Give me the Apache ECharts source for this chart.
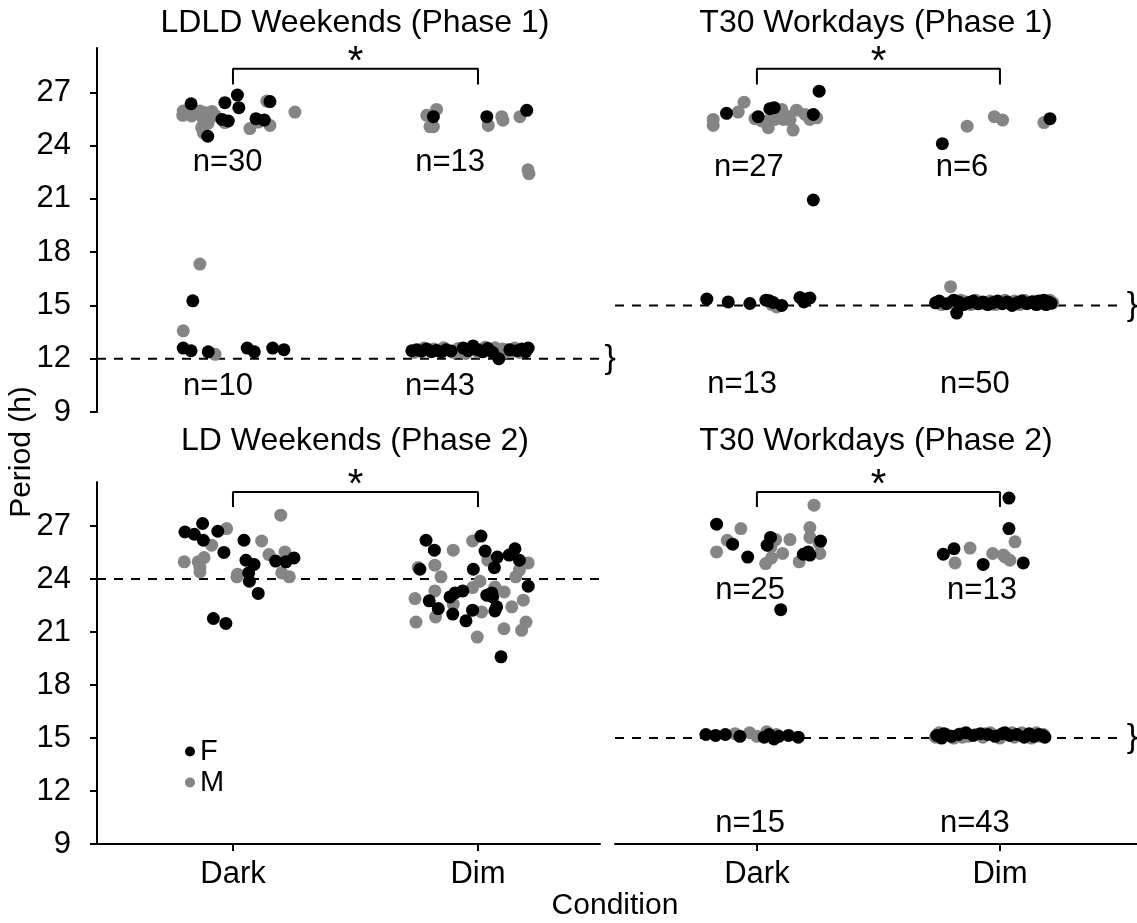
<!DOCTYPE html>
<html><head><meta charset="utf-8">
<script src="https://cdn.jsdelivr.net/npm/echarts@6/dist/echarts.min.js"></script>
<style>html,body{margin:0;padding:0;background:#fff}#c{width:1137px;height:923px}</style>
</head><body><div id="c"></div>
<script>
// ---------------- DATA ----------------
const conditions = ['Dark', 'Dim'];
const sexes = ['F', 'M'];
const panelTitles = ['LDLD Weekends (Phase 1)', 'T30 Workdays (Phase 1)', 'LD Weekends (Phase 2)', 'T30 Workdays (Phase 2)'];
const yTickValues = [9, 12, 15, 18, 21, 24, 27];
const refPeriods = [12, 15, 24, 15];          // dashed reference period per panel
const braceShown = [true, true, false, true];
// n counts per panel: [upper Dark, upper Dim, lower Dark, lower Dim]
const nCounts = [[30, 13, 10, 43], [27, 6, 13, 50], [], [25, 13, 15, 43]];

// points: [jitter from condition centre, period (h)]
const p1DarkF = [[-0.171,26.36],[-0.033,26.42],[0.018,26.85],[0.024,26.14],[0.151,26.48],[-0.019,25.39],[0.094,25.52],[0.128,25.44],[-0.103,24.53],[-0.045,25.48],
  [-0.164,15.26],[-0.203,12.60],[-0.171,12.45],[-0.101,12.39],[0.058,12.60],[0.087,12.39],[0.162,12.60],[0.208,12.51]];
const p1DarkM = [[-0.203,25.95],[-0.205,25.71],[-0.169,25.67],[-0.135,25.95],[-0.114,25.86],[-0.121,25.48],[-0.128,25.01],[-0.121,24.73],[-0.073,25.71],[-0.033,25.30],
  [0.069,24.96],[0.103,25.33],[0.151,25.14],[0.138,26.51],[0.253,25.89],[-0.094,25.57],[-0.155,25.92],[-0.102,25.26],[-0.176,26.04],[-0.086,25.93],
  [-0.135,17.33],[-0.203,13.57],[-0.073,12.25]];
const p1DimF = [[-0.182,25.63],[0.036,25.63],[0.199,25.99],
  [-0.27,12.45],[-0.25,12.5],[-0.23,12.42],[-0.21,12.55],[-0.19,12.4],[-0.17,12.47],[-0.15,12.38],[-0.13,12.5],[-0.11,12.44],[-0.06,12.6],[-0.04,12.45],
  [-0.02,12.72],[0.0,12.5],[0.02,12.4],[0.04,12.58],[0.06,12.35],[0.085,12.0],[0.13,12.5],[0.16,12.45],[0.18,12.55],[0.195,12.4],[0.205,12.6]];
const p1DimM = [[-0.209,25.71],[-0.169,26.04],[-0.196,25.07],[-0.182,25.07],[0.042,25.14],[0.097,25.63],[0.171,25.63],[0.204,22.64],[0.208,22.42],[0.102,25.43],
  [-0.26,12.35],[-0.22,12.6],[-0.18,12.55],[-0.14,12.62],[-0.1,12.35],[-0.08,12.58],[-0.07,12.4],[-0.05,12.3],[-0.03,12.55],[0.0,12.38],[0.03,12.65],
  [0.05,12.48],[0.07,12.62],[0.09,12.4],[0.1,12.55],[0.11,12.35],[0.12,12.5],[0.14,12.42],[0.15,12.6],[0.17,12.35],[0.19,12.5]];

const p2DarkF = [[0.256,27.07],[-0.125,25.82],[0.005,25.63],[0.053,26.08],[0.071,26.14],[0.232,25.76],[0.232,20.94],
  [-0.206,15.36],[-0.118,15.20],[-0.029,15.11],[0.051,15.26],[0.067,15.17],[0.102,15.0],[0.177,15.45],[0.205,15.36],[0.193,15.2],[0.218,15.42],[0.037,15.3]];
const p2DarkM = [[-0.053,26.45],[-0.077,25.89],[-0.180,25.48],[-0.180,25.14],[-0.008,25.52],[0.040,25.39],[0.047,25.01],[0.102,26.04],[0.108,25.48],[0.136,25.44],
  [0.149,24.88],[0.163,26.00],[0.198,25.76],[0.218,25.63],[0.246,25.57],[0.074,25.48],[0.019,25.39],[0.088,25.76],[0.122,25.67],[0.218,25.48],
  [0.081,14.92],[0.062,15.05]];
const p2DimF = [[-0.237,24.11],[0.206,25.52],
  [-0.265,15.15],[-0.25,15.25],[-0.22,15.1],[-0.19,15.3],[-0.178,14.57],[-0.17,15.2],[-0.15,15.05],[-0.13,15.15],[-0.11,15.25],[-0.09,15.1],[-0.07,15.2],
  [-0.05,15.05],[-0.03,15.15],[-0.01,15.25],[0.01,15.1],[0.03,15.2],[0.05,15.0],[0.07,15.15],[0.09,15.25],[0.11,15.1],[0.13,15.2],[0.15,15.05],[0.16,15.25],
  [0.17,15.15],[0.18,15.3],[0.19,15.05],[0.2,15.2],[0.21,15.12]];
const p2DimM = [[-0.135,25.10],[-0.023,25.63],[0.011,25.44],[0.181,25.30],
  [-0.24,15.05],[-0.2,15.2],[-0.203,16.06],[-0.18,15.1],[-0.16,15.3],[-0.14,15.2],[-0.12,15.05],[-0.1,15.3],[-0.08,15.1],[-0.04,15.25],[-0.02,15.05],
  [0.0,15.2],[0.02,15.3],[0.04,15.12],[0.06,15.25],[0.08,15.05],[0.1,15.3],[0.12,15.15],[0.14,15.25],[0.185,15.1],[0.205,15.3],[0.218,15.15]];

const p3DarkF = [[-0.124,27.15],[-0.196,26.67],[-0.158,26.54],[-0.062,26.71],[-0.121,26.20],[-0.037,25.51],[0.045,26.20],[0.053,25.07],[0.086,24.83],
  [0.064,24.35],[0.067,23.88],[0.103,23.19],[0.174,25.02],[0.216,24.98],[0.249,25.20],[-0.080,21.77],[-0.029,21.49]];
const p3DarkM = [[-0.026,26.86],[0.195,27.62],[-0.087,25.92],[0.117,26.16],[0.147,25.39],[0.212,25.54],[-0.199,24.98],[-0.142,24.98],[-0.118,25.22],
  [-0.135,24.66],[-0.135,24.41],[0.019,24.28],[0.016,24.13],[0.199,24.35],[0.230,24.13]];
const p3DimF = [[-0.212,26.20],[-0.178,25.64],[0.012,26.44],[0.029,25.59],[0.079,25.25],[0.067,24.65],[0.127,25.36],[0.151,25.72],[0.169,25.07],
  [-0.019,24.56],[-0.237,24.56],[0.205,23.60],[-0.199,22.77],[-0.162,22.33],[-0.114,22.99],[-0.094,23.22],[-0.062,23.33],[0.036,23.09],[0.056,23.22],
  [0.060,22.99],[0.076,22.43],[0.069,22.20],[-0.022,22.24],[-0.103,22.02],[-0.049,21.64],[0.094,19.60]];
const p3DimM = [[-0.022,26.16],[-0.101,25.64],[-0.176,24.79],[-0.244,24.66],[-0.151,24.13],[0.040,25.07],[0.205,24.92],[0.169,24.51],[0.154,24.13],
  [0.008,23.88],[-0.022,23.52],[-0.176,23.33],[-0.257,22.90],[0.069,23.55],[0.107,23.27],[0.185,22.81],[-0.101,22.58],[0.138,22.43],[0.015,22.14],
  [-0.253,21.57],[-0.173,21.86],[0.196,21.57],[0.178,21.10],[0.106,21.19],[-0.003,20.72]];

const p4DarkF = [[-0.166,27.11],[0.262,26.16],[-0.100,25.98],[0.056,26.36],[0.042,25.92],[-0.038,25.25],[0.191,25.41],[0.218,25.36],[0.098,22.27],[0.211,25.54],
  [-0.21,15.2],[-0.17,15.15],[-0.13,15.2],[-0.07,15.1],[0.03,15.05],[0.05,15.2],[0.07,14.95],[0.09,15.1],[0.13,15.15],[0.17,15.05]];
const p4DarkM = [[0.235,28.19],[-0.066,26.86],[0.218,26.92],[0.218,26.36],[-0.122,26.20],[0.077,26.24],[0.136,26.24],[-0.166,25.54],[0.060,25.20],
  [0.036,24.88],[0.106,25.45],[0.174,24.98],[0.259,25.45],[0.256,26.02],[0.058,25.83],
  [-0.09,15.25],[-0.03,15.3],[0.0,15.1],[0.04,15.35],[0.08,15.2]];
const p4DimF = [[0.037,28.59],[0.037,26.86],[-0.233,25.41],[-0.189,25.72],[-0.069,24.83],[0.096,24.92],
  [-0.26,15.15],[-0.23,15.25],[-0.2,15.1],[-0.17,15.2],[-0.14,15.3],[-0.11,15.15],[-0.08,15.25],[-0.05,15.2],[-0.02,15.1],[0.01,15.25],[0.04,15.15],
  [0.07,15.2],[0.1,15.05],[0.12,15.25],[0.14,15.1],[0.16,15.2],[0.175,15.15],[0.185,15.05],[-0.24,15.0],[0.02,15.3]];
const p4DimM = [[0.062,26.11],[-0.185,24.92],[-0.123,25.76],[-0.030,25.45],[0.014,25.36],[0.041,25.07],[0.021,25.26],
  [-0.265,15.05],[-0.25,15.3],[-0.22,15.2],[-0.19,15.0],[-0.16,15.25],[-0.13,15.1],[-0.1,15.2],[-0.07,15.05],[-0.04,15.3],[-0.01,15.15],[0.0,15.0],
  [0.03,15.2],[0.05,15.3],[0.06,15.05],[0.08,15.15],[0.09,15.3],[0.11,15.2],[0.13,15.0],[0.15,15.3],[0.165,15.1],[0.18,15.2],[-0.155,15.05],[-0.06,15.25]];

const panelPoints = [
  { F: [p1DarkF, p1DimF], M: [p1DarkM, p1DimM] },
  { F: [p2DarkF, p2DimF], M: [p2DarkM, p2DimM] },
  { F: [p3DarkF, p3DimF], M: [p3DarkM, p3DimM] },
  { F: [p4DarkF, p4DimF], M: [p4DarkM, p4DimM] }
];

// ---------------- LAYOUT / STYLE ----------------
const FONT = 'Liberation Sans, Arial, Helvetica, sans-serif';
const sexColors = { F: '#000000', M: '#858585' };
const grids = [
  { left: 97, top: 48, width: 503, height: 364 },
  { left: 615, top: 48, width: 522, height: 364 },
  { left: 97, top: 482, width: 503, height: 362 },
  { left: 615, top: 482, width: 522, height: 362 }
];
const xRanges = [[0.445, 2.498], [0.416, 2.564], [0.445, 2.498], [0.416, 2.564]];
const dashEnd = [2.498, 2.51, 2.498, 2.51];
const braceX = [2.54, 2.545, 2.54, 2.545];
const yRange = [9, 29.5];
const bracketLevels = [[27.45, 28.33], [27.45, 28.33], [28.09, 28.94], [28.09, 28.94]];
const starLevels = [28.65, 28.65, 29.27, 29.27];
const nAnchors = [
  [[0.978, 23.06], [1.886, 23.06], [0.939, 10.46], [1.845, 10.46]],
  [[0.967, 22.78], [1.844, 22.78], [0.939, 10.53], [1.897, 10.53]],
  [],
  [[0.972, 23.37], [1.926, 23.37], [0.972, 10.15], [1.897, 10.15]]
];
const titlePos = [[355, 23], [876, 23], [355, 441], [876, 441]];
const labelOnly = { symbolSize: 0, silent: true, clip: false, itemStyle: { opacity: 1 } };

const xAxes = [], yAxes = [], series = [];
grids.forEach((g, i) => {
  const isLeft = i % 2 === 0, isBottom = i >= 2;
  xAxes.push({
    gridIndex: i, type: 'value', min: xRanges[i][0], max: xRanges[i][1],
    show: isBottom,
    axisLine: { show: true, onZero: false, lineStyle: { color: '#000', width: 2 } },
    axisTick: { show: true, length: 7, lineStyle: { color: '#000', width: 2 }, customValues: [1, 2] },
    axisLabel: { show: true, customValues: [1, 2], formatter: v => conditions[Math.round(v) - 1] || '',
      fontSize: 31, color: '#000', fontFamily: FONT, margin: 15 },
    splitLine: { show: false }
  });
  yAxes.push({
    gridIndex: i, type: 'value', min: yRange[0], max: yRange[1],
    show: isLeft,
    axisLine: { show: true, onZero: false, lineStyle: { color: '#000', width: 2 } },
    axisTick: { show: true, length: 7, lineStyle: { color: '#000', width: 2 }, customValues: yTickValues },
    axisLabel: { show: true, customValues: yTickValues, fontSize: 31, color: '#000', fontFamily: FONT, margin: 26 },
    splitLine: { show: false }
  });
  // dashed reference line
  series.push({
    type: 'line', xAxisIndex: i, yAxisIndex: i, silent: true, symbol: 'none', z: 1,
    data: [[xRanges[i][0], refPeriods[i]], [dashEnd[i], refPeriods[i]]],
    lineStyle: { color: '#000', width: 2, type: [9, 8] }
  });
  if (braceShown[i]) {
    series.push(Object.assign({ type: 'scatter', xAxisIndex: i, yAxisIndex: i,
      data: [[braceX[i], refPeriods[i]]],
      label: { show: true, position: 'inside', formatter: '}', fontSize: 34, color: '#000', fontFamily: FONT } }, labelOnly));
  }
  // significance bracket
  const [lo, hi] = bracketLevels[i];
  series.push({
    type: 'line', xAxisIndex: i, yAxisIndex: i, silent: true, symbol: 'none', z: 3,
    data: [[1, lo], [1, hi], [2, hi], [2, lo]],
    lineStyle: { color: '#000', width: 2 }
  });
  series.push(Object.assign({ type: 'scatter', xAxisIndex: i, yAxisIndex: i,
    data: [[1.5, starLevels[i]]],
    label: { show: true, position: 'inside', formatter: '*', fontSize: 40, color: '#000', fontFamily: FONT } }, labelOnly));
  // n labels
  if (nCounts[i].length) {
    series.push(Object.assign({ type: 'scatter', xAxisIndex: i, yAxisIndex: i,
      data: nAnchors[i].map((p, k) => ({ value: p, label: { formatter: 'n=' + nCounts[i][k] } })),
      label: { show: true, position: 'inside', fontSize: 31, color: '#000', fontFamily: FONT } }, labelOnly));
  }
  // points: M first, F on top
  ['M', 'F'].forEach(s => {
    const data = [];
    panelPoints[i][s].forEach((arr, c) => arr.forEach(p => data.push([c + 1 + p[0], p[1]])));
    series.push({
      name: s, type: 'scatter', xAxisIndex: i, yAxisIndex: i, symbol: 'circle', symbolSize: 13,
      itemStyle: { color: sexColors[s], opacity: 1 }, data: data, z: 2
    });
  });
});

const graphics = panelTitles.map((t, i) => ({
  type: 'text', x: titlePos[i][0], y: titlePos[i][1],
  style: { text: t, fontSize: 32, fontFamily: FONT, fill: '#000', align: 'center', verticalAlign: 'middle' }
}));
graphics.push({ type: 'text', x: 615, y: 906,
  style: { text: 'Condition', fontSize: 30, fontFamily: FONT, fill: '#000', align: 'center', verticalAlign: 'middle' } });
graphics.push({ type: 'text', x: 22, y: 452, rotation: Math.PI / 2,
  style: { text: 'Period (h)', fontSize: 30, fontFamily: FONT, fill: '#000', align: 'center', verticalAlign: 'middle' } });

const chart = echarts.init(document.getElementById('c'), null, { renderer: 'canvas' });
chart.setOption({
  animation: false,
  backgroundColor: '#fff',
  grid: grids,
  xAxis: xAxes,
  yAxis: yAxes,
  legend: {
    data: sexes, orient: 'vertical', left: 185, top: 737, padding: 0, itemGap: 2,
    icon: 'circle', itemWidth: 10, itemHeight: 10, selectedMode: false,
    textStyle: { fontSize: 29, color: '#000', fontFamily: FONT }
  },
  graphic: graphics,
  series: series
});
</script></body></html>
